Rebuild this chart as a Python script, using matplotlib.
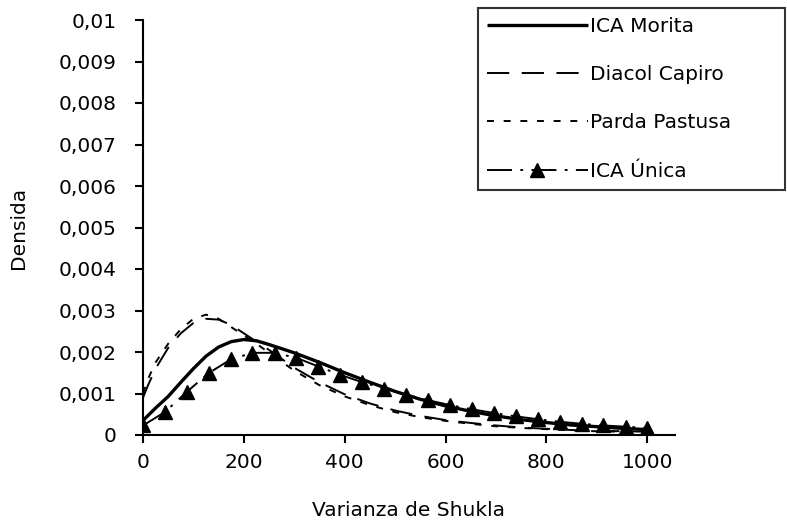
import matplotlib
matplotlib.use("Agg")
import matplotlib.pyplot as plt
from matplotlib.ticker import FixedLocator, FuncFormatter

plt.rcParams['font.family'] = ['DejaVu Sans']
plt.rcParams['lines.scale_dashes'] = False

# Data (densities in units of 1e-3)
x_curve = [0, 10, 25, 50, 75, 100, 125, 150, 175, 200, 225, 250, 300, 350, 400,
           450, 500, 550, 600, 650, 700, 750, 800, 850, 900, 950, 1000]
ica_morita = [0.35, 0.47, 0.65, 0.93, 1.27, 1.6, 1.9, 2.12, 2.25, 2.3, 2.27, 2.18,
              1.98, 1.75, 1.5, 1.27, 1.05, 0.86, 0.7, 0.57, 0.46, 0.37, 0.3, 0.24,
              0.2, 0.16, 0.13]
diacol_capiro = [0.9, 1.2, 1.6, 2.1, 2.45, 2.7, 2.8, 2.78, 2.65, 2.45, 2.25, 2.05,
                 1.62, 1.27, 0.98, 0.76, 0.59, 0.46, 0.36, 0.29, 0.23, 0.18, 0.15,
                 0.12, 0.1, 0.09, 0.08]
parda_pastusa = [1.0, 1.35, 1.75, 2.2, 2.55, 2.8, 2.9, 2.8, 2.6, 2.4, 2.2, 1.98,
                 1.55, 1.2, 0.93, 0.72, 0.55, 0.43, 0.34, 0.27, 0.21, 0.17, 0.14,
                 0.11, 0.09, 0.08, 0.07]
x_unica = [0, 43, 87, 130, 174, 217, 261, 304, 348, 391, 435, 478, 522, 565, 609,
           652, 696, 739, 783, 826, 870, 913, 957, 1000]
ica_unica = [0.23, 0.55, 1.04, 1.49, 1.82, 1.98, 1.98, 1.86, 1.65, 1.45, 1.27, 1.12,
             0.97, 0.84, 0.72, 0.62, 0.53, 0.45, 0.38, 0.32, 0.27, 0.23, 0.2, 0.17]

labels = ["ICA Morita", "Diacol Capiro", "Parda Pastusa", "ICA Única"]
x_ticks = [0, 200, 400, 600, 800, 1000]
y_ticks = [0, 0.001, 0.002, 0.003, 0.004, 0.005, 0.006, 0.007, 0.008, 0.009, 0.01]

fig = plt.figure(figsize=(7.87, 5.21), dpi=100)
ax = fig.add_axes([143 / 787, 1 - 435 / 521, (675 - 143) / 787, (435 - 20) / 521])

sc = 1e-3
ax.plot(x_curve, [v * sc for v in ica_morita], color='black', lw=2.4,
        solid_capstyle='butt', label=labels[0])
ax.plot(x_curve, [v * sc for v in diacol_capiro], color='black', lw=1.4,
        linestyle=(0, (16, 9)), label=labels[1])
ax.plot(x_curve, [v * sc for v in parda_pastusa], color='black', lw=1.4,
        linestyle=(0, (5, 7)), label=labels[2])
ax.plot(x_unica, [v * sc for v in ica_unica], color='black', lw=1.4,
        linestyle=(0, (18, 6, 2, 6)), marker='^', markersize=9.5, label=labels[3])

ax.set_xlim(0, 1055)
ax.set_ylim(0, 0.01)
ax.xaxis.set_major_locator(FixedLocator(x_ticks))
ax.yaxis.set_major_locator(FixedLocator(y_ticks))

def yfmt(v, pos):
    if abs(v) < 1e-12:
        return "0"
    s = ("%.3f" % v).rstrip('0')
    return s.replace('.', ',')

ax.yaxis.set_major_formatter(FuncFormatter(yfmt))
ax.xaxis.set_major_formatter(FuncFormatter(lambda v, p: "%d" % v))

for s in ['top', 'right']:
    ax.spines[s].set_visible(False)
for s in ['left', 'bottom']:
    ax.spines[s].set_linewidth(1.5)
ax.tick_params(axis='both', direction='out', length=6, width=1.5, labelsize=14.5)
ax.tick_params(axis='y', pad=13)
ax.tick_params(axis='x', pad=7)

ax.set_xlabel("Varianza de Shukla", fontsize=14.5, labelpad=21)
ax.set_ylabel("Densida", fontsize=14.5, labelpad=22)

leg = fig.legend(loc='upper left',
                 bbox_to_anchor=(478 / 787, 1 - 190 / 521, (785 - 478) / 787, (190 - 8) / 521),
                 bbox_transform=fig.transFigure, mode='expand',
                 fontsize=14.5, frameon=True,
                 fancybox=False, edgecolor='black', handlelength=5.0,
                 handletextpad=0.1, labelspacing=1.45, borderpad=0.45,
                 borderaxespad=0)
leg.get_frame().set_linewidth(1.5)

fig.savefig("out.png", dpi=100)
